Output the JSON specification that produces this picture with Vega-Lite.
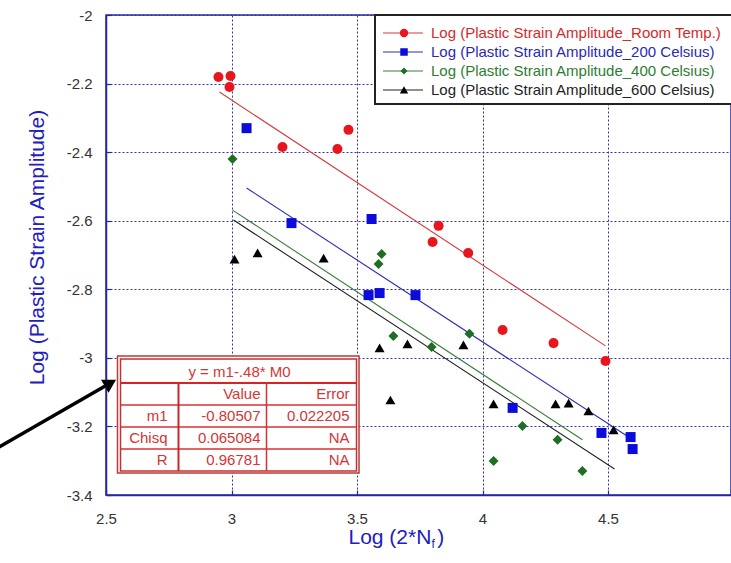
{
  "$schema": "https://vega.github.io/schema/vega-lite/v6.json",
  "width": 625,
  "height": 480,
  "autosize": {"type": "none"},
  "padding": {"left": 106, "top": 15, "right": 0, "bottom": 68},
  "background": "white",
  "config": {
    "view": {"stroke": "#2626a0", "strokeWidth": 1.5},
    "font": "Liberation Sans"
  },
  "datasets": {
    "points": [
      {"series": "Log (Plastic Strain Amplitude_Room Temp.)", "logN": 2.948, "logEps": -2.181},
      {"series": "Log (Plastic Strain Amplitude_Room Temp.)", "logN": 2.996, "logEps": -2.178},
      {"series": "Log (Plastic Strain Amplitude_Room Temp.)", "logN": 2.992, "logEps": -2.210},
      {"series": "Log (Plastic Strain Amplitude_Room Temp.)", "logN": 3.203, "logEps": -2.385},
      {"series": "Log (Plastic Strain Amplitude_Room Temp.)", "logN": 3.422, "logEps": -2.391},
      {"series": "Log (Plastic Strain Amplitude_Room Temp.)", "logN": 3.466, "logEps": -2.335},
      {"series": "Log (Plastic Strain Amplitude_Room Temp.)", "logN": 3.801, "logEps": -2.662},
      {"series": "Log (Plastic Strain Amplitude_Room Temp.)", "logN": 3.825, "logEps": -2.615},
      {"series": "Log (Plastic Strain Amplitude_Room Temp.)", "logN": 3.943, "logEps": -2.694},
      {"series": "Log (Plastic Strain Amplitude_Room Temp.)", "logN": 4.080, "logEps": -2.919},
      {"series": "Log (Plastic Strain Amplitude_Room Temp.)", "logN": 4.283, "logEps": -2.957},
      {"series": "Log (Plastic Strain Amplitude_Room Temp.)", "logN": 4.490, "logEps": -3.009},
      {"series": "Log (Plastic Strain Amplitude_200 Celsius)", "logN": 3.060, "logEps": -2.330},
      {"series": "Log (Plastic Strain Amplitude_200 Celsius)", "logN": 3.239, "logEps": -2.607},
      {"series": "Log (Plastic Strain Amplitude_200 Celsius)", "logN": 3.558, "logEps": -2.595},
      {"series": "Log (Plastic Strain Amplitude_200 Celsius)", "logN": 3.546, "logEps": -2.817},
      {"series": "Log (Plastic Strain Amplitude_200 Celsius)", "logN": 3.590, "logEps": -2.811},
      {"series": "Log (Plastic Strain Amplitude_200 Celsius)", "logN": 3.733, "logEps": -2.817},
      {"series": "Log (Plastic Strain Amplitude_200 Celsius)", "logN": 4.120, "logEps": -3.146},
      {"series": "Log (Plastic Strain Amplitude_200 Celsius)", "logN": 4.474, "logEps": -3.219},
      {"series": "Log (Plastic Strain Amplitude_200 Celsius)", "logN": 4.590, "logEps": -3.231},
      {"series": "Log (Plastic Strain Amplitude_200 Celsius)", "logN": 4.598, "logEps": -3.266},
      {"series": "Log (Plastic Strain Amplitude_400 Celsius)", "logN": 3.004, "logEps": -2.420},
      {"series": "Log (Plastic Strain Amplitude_400 Celsius)", "logN": 3.598, "logEps": -2.697},
      {"series": "Log (Plastic Strain Amplitude_400 Celsius)", "logN": 3.586, "logEps": -2.726},
      {"series": "Log (Plastic Strain Amplitude_400 Celsius)", "logN": 3.645, "logEps": -2.936},
      {"series": "Log (Plastic Strain Amplitude_400 Celsius)", "logN": 3.797, "logEps": -2.968},
      {"series": "Log (Plastic Strain Amplitude_400 Celsius)", "logN": 3.948, "logEps": -2.930},
      {"series": "Log (Plastic Strain Amplitude_400 Celsius)", "logN": 4.044, "logEps": -3.301},
      {"series": "Log (Plastic Strain Amplitude_400 Celsius)", "logN": 4.159, "logEps": -3.199},
      {"series": "Log (Plastic Strain Amplitude_400 Celsius)", "logN": 4.299, "logEps": -3.239},
      {"series": "Log (Plastic Strain Amplitude_400 Celsius)", "logN": 4.398, "logEps": -3.330},
      {"series": "Log (Plastic Strain Amplitude_600 Celsius)", "logN": 3.012, "logEps": -2.712},
      {"series": "Log (Plastic Strain Amplitude_600 Celsius)", "logN": 3.104, "logEps": -2.694},
      {"series": "Log (Plastic Strain Amplitude_600 Celsius)", "logN": 3.367, "logEps": -2.709},
      {"series": "Log (Plastic Strain Amplitude_600 Celsius)", "logN": 3.590, "logEps": -2.971},
      {"series": "Log (Plastic Strain Amplitude_600 Celsius)", "logN": 3.701, "logEps": -2.959},
      {"series": "Log (Plastic Strain Amplitude_600 Celsius)", "logN": 3.924, "logEps": -2.962},
      {"series": "Log (Plastic Strain Amplitude_600 Celsius)", "logN": 3.633, "logEps": -3.123},
      {"series": "Log (Plastic Strain Amplitude_600 Celsius)", "logN": 4.044, "logEps": -3.134},
      {"series": "Log (Plastic Strain Amplitude_600 Celsius)", "logN": 4.291, "logEps": -3.134},
      {"series": "Log (Plastic Strain Amplitude_600 Celsius)", "logN": 4.343, "logEps": -3.132},
      {"series": "Log (Plastic Strain Amplitude_600 Celsius)", "logN": 4.422, "logEps": -3.155},
      {"series": "Log (Plastic Strain Amplitude_600 Celsius)", "logN": 4.522, "logEps": -3.210}
    ],
    "fits": [
      {"series": "Log (Plastic Strain Amplitude_Room Temp.)", "logN": 2.952, "logEps": -2.2246},
      {"series": "Log (Plastic Strain Amplitude_Room Temp.)", "logN": 4.490, "logEps": -2.965},
      {"series": "Log (Plastic Strain Amplitude_200 Celsius)", "logN": 3.060, "logEps": -2.5045},
      {"series": "Log (Plastic Strain Amplitude_200 Celsius)", "logN": 4.582, "logEps": -3.231},
      {"series": "Log (Plastic Strain Amplitude_400 Celsius)", "logN": 3.004, "logEps": -2.569},
      {"series": "Log (Plastic Strain Amplitude_400 Celsius)", "logN": 4.398, "logEps": -3.239},
      {"series": "Log (Plastic Strain Amplitude_600 Celsius)", "logN": 3.008, "logEps": -2.598},
      {"series": "Log (Plastic Strain Amplitude_600 Celsius)", "logN": 4.526, "logEps": -3.324}
    ]
  },
  "layer": [
    {
      "data": {"name": "fits"},
      "mark": {"type": "line", "strokeWidth": 1.1},
      "encoding": {
        "x": {
          "field": "logN", "type": "quantitative",
          "scale": {"domain": [2.5, 4.99], "nice": false, "zero": false},
          "axis": {
            "values": [2.5, 3, 3.5, 4, 4.5],
            "labelExpr": "'' + datum.value",
            "labelFlush": false, "labelOverlap": false, "labelBound": false,
            "labelFont": "Liberation Sans", "labelFontSize": 15, "labelColor": "#333333", "labelPadding": 21,
            "grid": true, "gridColor": "#3030b0", "gridDash": [2, 2], "gridWidth": 1, "gridOpacity": 1,
            "domainColor": "#2626a0", "domainWidth": 1.5,
            "tickColor": "#2626a0", "tickSize": -5, "tickWidth": 1.2,
            "title": "Log (2*N )",
            "titleFont": "Liberation Sans", "titleFontSize": 21, "titleFontWeight": "normal", "titleColor": "#2020c0",
            "titleAlign": "left", "titleBaseline": "alphabetic", "titleX": 242, "titleY": 48
          }
        },
        "y": {
          "field": "logEps", "type": "quantitative",
          "scale": {"domain": [-3.4, -2], "nice": false, "zero": false},
          "axis": {
            "values": [-2, -2.2, -2.4, -2.6, -2.8, -3, -3.2, -3.4],
            "labelExpr": "'' + datum.value",
            "labelFlush": false, "labelOverlap": false, "labelBound": false,
            "labelFont": "Liberation Sans", "labelFontSize": 15, "labelColor": "#333333", "labelPadding": 19,
            "grid": true, "gridColor": "#3030b0", "gridDash": [2, 2], "gridWidth": 1, "gridOpacity": 1,
            "domainColor": "#2626a0", "domainWidth": 1.5,
            "tickColor": "#2626a0", "tickSize": -5, "tickWidth": 1.2,
            "title": "Log (Plastic Strain Amplitude)",
            "titleFont": "Liberation Sans", "titleFontSize": 21, "titleFontWeight": "normal", "titleColor": "#2020c0",
            "titleAngle": -90, "titleAlign": "center", "titleBaseline": "alphabetic", "titleX": -63, "titleY": 232
          }
        },
        "stroke": {
          "field": "series", "type": "nominal",
          "scale": {
            "domain": ["Log (Plastic Strain Amplitude_Room Temp.)", "Log (Plastic Strain Amplitude_200 Celsius)", "Log (Plastic Strain Amplitude_400 Celsius)", "Log (Plastic Strain Amplitude_600 Celsius)"],
            "range": ["#d23c3c", "#2c2cb4", "#3a7d3a", "#222222"]
          },
          "legend": null
        }
      }
    },
    {
      "data": {"name": "points"},
      "mark": {"type": "point", "filled": true, "opacity": 1, "size": 100},
      "encoding": {
        "x": {"field": "logN", "type": "quantitative"},
        "y": {"field": "logEps", "type": "quantitative"},
        "color": {
          "field": "series", "type": "nominal",
          "scale": {
            "domain": ["Log (Plastic Strain Amplitude_Room Temp.)", "Log (Plastic Strain Amplitude_200 Celsius)", "Log (Plastic Strain Amplitude_400 Celsius)", "Log (Plastic Strain Amplitude_600 Celsius)"],
            "range": ["#e8161c", "#0b0bdc", "#1f6e24", "#000000"]
          },
          "legend": null
        },
        "shape": {
          "field": "series", "type": "nominal",
          "scale": {
            "domain": ["Log (Plastic Strain Amplitude_Room Temp.)", "Log (Plastic Strain Amplitude_200 Celsius)", "Log (Plastic Strain Amplitude_400 Celsius)", "Log (Plastic Strain Amplitude_600 Celsius)"],
            "range": ["circle", "square", "diamond", "triangle-up"]
          },
          "legend": null
        }
      }
    },
    {
      "data": {"values": [{}]},
      "mark": {"type": "rect", "fill": "white", "stroke": "#222222", "strokeWidth": 2},
      "encoding": {"x": {"datum": 3.5717}, "x2": {"datum": 5.0}, "y": {"datum": -2.0}, "y2": {"datum": -2.2596}}
    },
    {
      "data": {"values": [{"name": "Log (Plastic Strain Amplitude_Room Temp.)"}]},
      "encoding": {"y": {"datum": -2.0525}},
      "layer": [
        {"mark": {"type": "rule", "color": "#d23c3c", "strokeWidth": 1.2}, "encoding": {"x": {"datum": 3.6036}, "x2": {"datum": 3.7629}}},
        {"mark": {"type": "point", "shape": "circle", "filled": true, "opacity": 1, "color": "#e8161c", "size": 70}, "encoding": {"x": {"datum": 3.6873}}},
        {"mark": {"type": "text", "align": "left", "baseline": "middle", "font": "Liberation Sans", "fontSize": 15, "color": "#d42a2a"}, "encoding": {"x": {"datum": 3.7948}, "text": {"field": "name"}}}
      ]
    },
    {
      "data": {"values": [{"name": "Log (Plastic Strain Amplitude_200 Celsius)"}]},
      "encoding": {"y": {"datum": -2.1079}},
      "layer": [
        {"mark": {"type": "rule", "color": "#2c2cb4", "strokeWidth": 1.2}, "encoding": {"x": {"datum": 3.6036}, "x2": {"datum": 3.7629}}},
        {"mark": {"type": "point", "shape": "square", "filled": true, "opacity": 1, "color": "#0b0bdc", "size": 56}, "encoding": {"x": {"datum": 3.6873}}},
        {"mark": {"type": "text", "align": "left", "baseline": "middle", "font": "Liberation Sans", "fontSize": 15, "color": "#2a2ab4"}, "encoding": {"x": {"datum": 3.7948}, "text": {"field": "name"}}}
      ]
    },
    {
      "data": {"values": [{"name": "Log (Plastic Strain Amplitude_400 Celsius)"}]},
      "encoding": {"y": {"datum": -2.1633}},
      "layer": [
        {"mark": {"type": "rule", "color": "#3a7d3a", "strokeWidth": 1.2}, "encoding": {"x": {"datum": 3.6036}, "x2": {"datum": 3.7629}}},
        {"mark": {"type": "point", "shape": "diamond", "filled": true, "opacity": 1, "color": "#1f6e24", "size": 50}, "encoding": {"x": {"datum": 3.6873}}},
        {"mark": {"type": "text", "align": "left", "baseline": "middle", "font": "Liberation Sans", "fontSize": 15, "color": "#2e7d32"}, "encoding": {"x": {"datum": 3.7948}, "text": {"field": "name"}}}
      ]
    },
    {
      "data": {"values": [{"name": "Log (Plastic Strain Amplitude_600 Celsius)"}]},
      "encoding": {"y": {"datum": -2.2187}},
      "layer": [
        {"mark": {"type": "rule", "color": "#222222", "strokeWidth": 1.2}, "encoding": {"x": {"datum": 3.6036}, "x2": {"datum": 3.7629}}},
        {"mark": {"type": "point", "shape": "triangle-up", "filled": true, "opacity": 1, "color": "#000000", "size": 70}, "encoding": {"x": {"datum": 3.6873}}},
        {"mark": {"type": "text", "align": "left", "baseline": "middle", "font": "Liberation Sans", "fontSize": 15, "color": "#222222"}, "encoding": {"x": {"datum": 3.7948}, "text": {"field": "name"}}}
      ]
    },
    {
      "data": {"values": [{}]},
      "mark": {"type": "rule", "color": "black", "strokeWidth": 3.5},
      "encoding": {"x": {"datum": 2.072}, "y": {"datum": -3.261}, "x2": {"datum": 2.5176}, "y2": {"datum": -3.0733}}
    },
    {
      "data": {"values": [{}]},
      "mark": {"type": "point", "shape": "triangle-up", "filled": true, "color": "black", "opacity": 1, "size": 225, "angle": 60},
      "encoding": {"x": {"datum": 2.5176}, "y": {"datum": -3.0733}}
    },
    {
      "data": {"values": [{}]},
      "mark": {"type": "rect", "fill": "white", "stroke": "#b43c3c", "strokeWidth": 1.5},
      "encoding": {"x": {"datum": 2.5458}, "x2": {"datum": 3.508}, "y": {"datum": -2.9945}, "y2": {"datum": -3.3357}}
    },
    {
      "data": {"values": [{}]},
      "mark": {"type": "rect", "fillOpacity": 0, "stroke": "#c83030", "strokeWidth": 1.5},
      "encoding": {"x": {"datum": 2.5578}, "x2": {"datum": 3.498}, "y": {"datum": -3.0032}, "y2": {"datum": -3.3298}}
    },
    {
      "data": {"values": [{}]},
      "mark": {"type": "rule", "color": "#e02020", "strokeWidth": 2},
      "encoding": {"x": {"datum": 2.5578}, "x2": {"datum": 3.498}, "y": {"datum": -3.0732}}
    },
    {
      "data": {"values": [{}]},
      "mark": {"type": "rule", "color": "#d83030", "strokeWidth": 1.5},
      "encoding": {"x": {"datum": 2.5578}, "x2": {"datum": 3.498}, "y": {"datum": -3.1374}}
    },
    {
      "data": {"values": [{}]},
      "mark": {"type": "rule", "color": "#d83030", "strokeWidth": 1.5},
      "encoding": {"x": {"datum": 2.5578}, "x2": {"datum": 3.498}, "y": {"datum": -3.2015}}
    },
    {
      "data": {"values": [{}]},
      "mark": {"type": "rule", "color": "#d83030", "strokeWidth": 1.5},
      "encoding": {"x": {"datum": 2.5578}, "x2": {"datum": 3.498}, "y": {"datum": -3.2657}}
    },
    {
      "data": {"values": [{}]},
      "mark": {"type": "rule", "color": "#c82828", "strokeWidth": 2},
      "encoding": {"x": {"datum": 2.7888}, "y": {"datum": -3.0732}, "y2": {"datum": -3.3298}}
    },
    {
      "data": {"values": [{}]},
      "mark": {"type": "rule", "color": "#d83030", "strokeWidth": 1.5},
      "encoding": {"x": {"datum": 3.1394}, "y": {"datum": -3.0732}, "y2": {"datum": -3.3298}}
    },
    {
      "data": {"values": [{"title": "y = m1-.48* M0"}]},
      "mark": {"type": "text", "align": "center", "baseline": "middle", "font": "Liberation Sans", "fontSize": 15, "color": "#d43535"},
      "encoding": {"x": {"datum": 3.0319}, "y": {"datum": -3.0411}, "text": {"field": "title"}}
    },
    {
      "data": {"values": [{"stat": "", "value": "Value", "error": "Error"}]},
      "encoding": {"y": {"datum": -3.1053}},
      "layer": [
        {"mark": {"type": "text", "align": "right", "baseline": "middle", "font": "Liberation Sans", "fontSize": 15, "color": "#d43535"}, "encoding": {"x": {"datum": 3.1155}, "text": {"field": "value"}}},
        {"mark": {"type": "text", "align": "right", "baseline": "middle", "font": "Liberation Sans", "fontSize": 15, "color": "#d43535"}, "encoding": {"x": {"datum": 3.4701}, "text": {"field": "error"}}}
      ]
    },
    {
      "data": {"values": [{"stat": "m1", "value": "-0.80507", "error": "0.022205"}]},
      "encoding": {"y": {"datum": -3.1694}},
      "layer": [
        {"mark": {"type": "text", "align": "right", "baseline": "middle", "font": "Liberation Sans", "fontSize": 15, "color": "#d43535"}, "encoding": {"x": {"datum": 2.745}, "text": {"field": "stat"}}},
        {"mark": {"type": "text", "align": "right", "baseline": "middle", "font": "Liberation Sans", "fontSize": 15, "color": "#d43535"}, "encoding": {"x": {"datum": 3.1155}, "text": {"field": "value"}}},
        {"mark": {"type": "text", "align": "right", "baseline": "middle", "font": "Liberation Sans", "fontSize": 15, "color": "#d43535"}, "encoding": {"x": {"datum": 3.4701}, "text": {"field": "error"}}}
      ]
    },
    {
      "data": {"values": [{"stat": "Chisq", "value": "0.065084", "error": "NA"}]},
      "encoding": {"y": {"datum": -3.2336}},
      "layer": [
        {"mark": {"type": "text", "align": "right", "baseline": "middle", "font": "Liberation Sans", "fontSize": 15, "color": "#d43535"}, "encoding": {"x": {"datum": 2.745}, "text": {"field": "stat"}}},
        {"mark": {"type": "text", "align": "right", "baseline": "middle", "font": "Liberation Sans", "fontSize": 15, "color": "#d43535"}, "encoding": {"x": {"datum": 3.1155}, "text": {"field": "value"}}},
        {"mark": {"type": "text", "align": "right", "baseline": "middle", "font": "Liberation Sans", "fontSize": 15, "color": "#d43535"}, "encoding": {"x": {"datum": 3.4701}, "text": {"field": "error"}}}
      ]
    },
    {
      "data": {"values": [{"stat": "R", "value": "0.96781", "error": "NA"}]},
      "encoding": {"y": {"datum": -3.2978}},
      "layer": [
        {"mark": {"type": "text", "align": "right", "baseline": "middle", "font": "Liberation Sans", "fontSize": 15, "color": "#d43535"}, "encoding": {"x": {"datum": 2.745}, "text": {"field": "stat"}}},
        {"mark": {"type": "text", "align": "right", "baseline": "middle", "font": "Liberation Sans", "fontSize": 15, "color": "#d43535"}, "encoding": {"x": {"datum": 3.1155}, "text": {"field": "value"}}},
        {"mark": {"type": "text", "align": "right", "baseline": "middle", "font": "Liberation Sans", "fontSize": 15, "color": "#d43535"}, "encoding": {"x": {"datum": 3.4701}, "text": {"field": "error"}}}
      ]
    },
    {
      "data": {"values": [{"sub": "f"}]},
      "mark": {"type": "text", "align": "left", "baseline": "alphabetic", "font": "Liberation Sans", "fontSize": 12, "color": "#2020c0"},
      "encoding": {"x": {"datum": 3.797}, "y": {"datum": -3.5544}, "text": {"field": "sub"}}
    }
  ]
}
